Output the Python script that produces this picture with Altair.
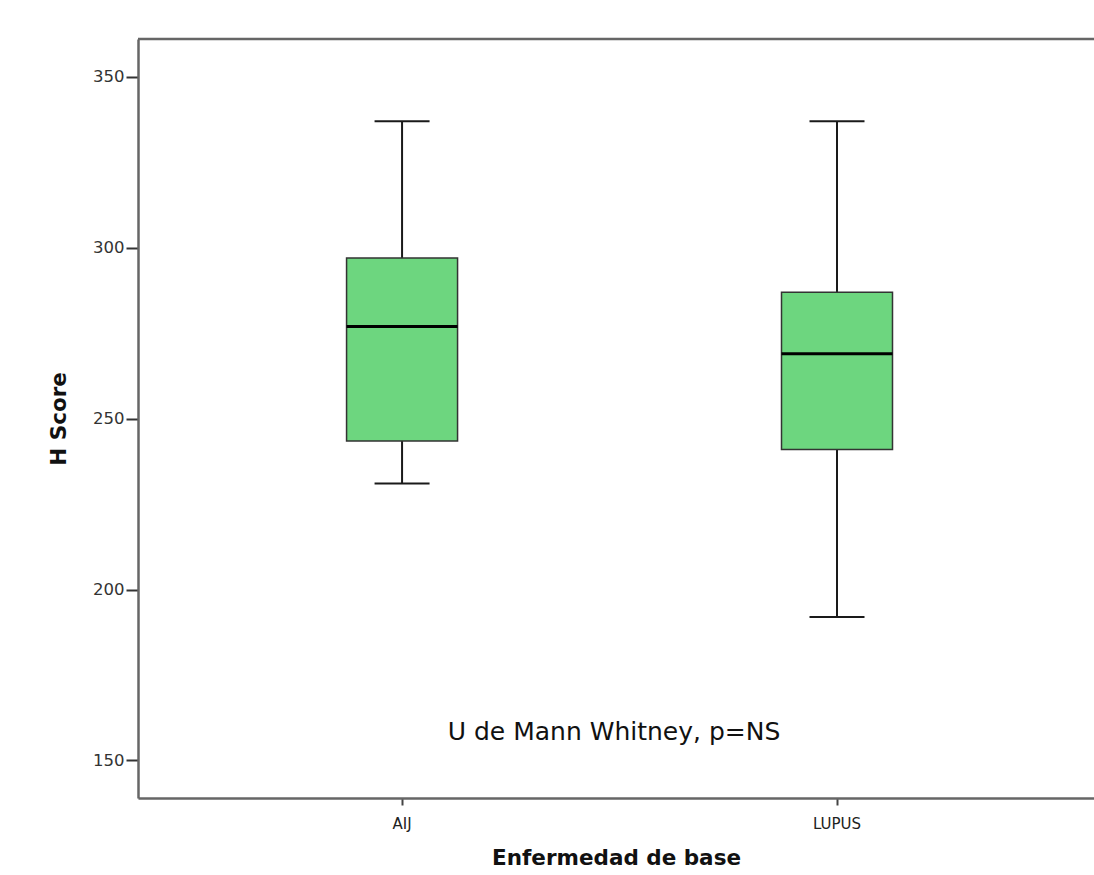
import altair as alt
import pandas as pd

categories = ["AIJ", "LUPUS"]
whisker_low = [231, 192]
q1 = [243.5, 241]
median = [277, 269]
q3 = [297, 287]
whisker_high = [337, 337]

df = pd.DataFrame({
    "cat": categories,
    "lo": whisker_low,
    "q1": q1,
    "med": median,
    "q3": q3,
    "hi": whisker_high,
})

W, H = 956, 759
FONT = "DejaVu Sans"

x = alt.X(
    "cat:N",
    sort=categories,
    scale=alt.Scale(paddingInner=0, paddingOuter=0.099, align=0.541),
    axis=alt.Axis(
        title="Enfermedad de base",
        labelAngle=0,
        labelFontSize=15,
        labelColor="#222",
        labelFont=FONT,
        labelPadding=11,
        tickSize=7,
        tickWidth=2,
        tickColor="#444",
        domainColor="#666",
        domainWidth=2.5,
        titleFontSize=21.5,
        titleFont=FONT,
        titleFontWeight="bold",
        titleColor="#111",
        titlePadding=16,
    ),
)
yscale = alt.Scale(domain=[139, 361.1], nice=False, zero=False)

base = alt.Chart(df)

whisker = base.mark_rule(color="#1a1a1a", strokeWidth=2).encode(
    x=x,
    y=alt.Y(
        "lo:Q",
        scale=yscale,
        axis=alt.Axis(
            title="H Score",
            values=[150, 200, 250, 300, 350],
            grid=False,
            labelFontSize=16.5,
            labelColor="#333",
            labelFont=FONT,
            labelPadding=2,
            tickSize=12,
            tickWidth=2,
            tickColor="#333",
            domainColor="#666",
            domainWidth=2.5,
            titleFontSize=21.5,
            titleFont=FONT,
            titleFontWeight="bold",
            titleColor="#111",
            titlePadding=22,
        ),
    ),
    y2="hi:Q",
)

box = base.mark_bar(size=111, color="#6dd67f", stroke="#333333", strokeWidth=1.5).encode(
    x=x, y=alt.Y("q1:Q", scale=yscale), y2="q3:Q"
)

med = base.mark_tick(size=111, thickness=3, color="#000000", opacity=1).encode(
    x=x, y=alt.Y("med:Q", scale=yscale)
)
cap_lo = base.mark_tick(size=55, thickness=2, color="#1a1a1a", opacity=1).encode(
    x=x, y=alt.Y("lo:Q", scale=yscale)
)
cap_hi = base.mark_tick(size=55, thickness=2, color="#1a1a1a", opacity=1).encode(
    x=x, y=alt.Y("hi:Q", scale=yscale)
)

note = alt.Chart(pd.DataFrame({"t": ["U de Mann Whitney, p=NS"]})).mark_text(
    fontSize=25, font=FONT, color="#111", align="center", baseline="middle"
).encode(text="t:N", x=alt.value(476), y=alt.value(693))

top_line = alt.Chart(pd.DataFrame({"a": [0]})).mark_rule(color="#666", strokeWidth=2.5).encode(
    x=alt.value(0), x2=alt.value(W), y=alt.value(0)
)

chart = alt.layer(whisker, box, med, cap_lo, cap_hi, note, top_line).properties(
    width=W,
    height=H,
    autosize=alt.AutoSizeParams(type="none"),
    padding={"left": 138, "top": 39, "right": 0, "bottom": 77},
).configure_view(stroke=None).configure(background="white")

chart.save("out.html", embed_options={"renderer": "svg", "actions": False})
